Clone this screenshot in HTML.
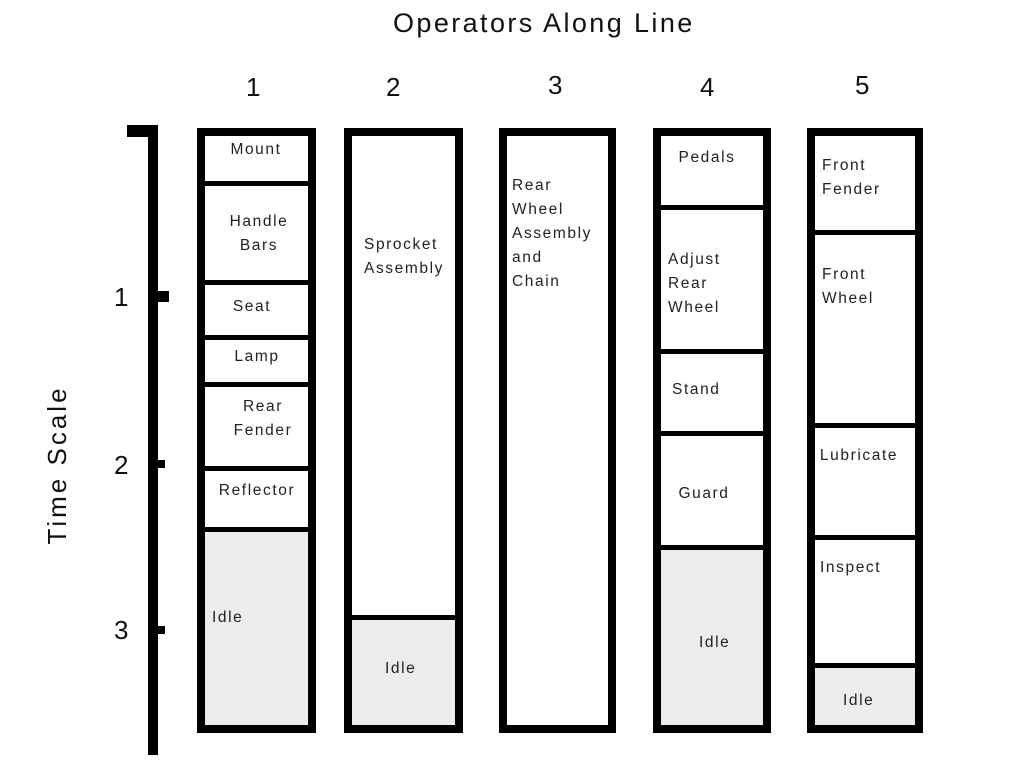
<!DOCTYPE html>
<html><head><style>
body{margin:0;width:1020px;height:763px;background:#fff;position:relative;overflow:hidden;font-family:"Liberation Sans",Arial,sans-serif;color:#222}
.a{position:absolute}
.b{position:absolute;background:#000}
.col{position:absolute;top:128px;height:605px;border:8px solid #000;box-sizing:border-box;background:#fff}
.t{position:absolute;font-size:15.5px;letter-spacing:1.6px;line-height:24px;white-space:nowrap}
.c{transform:translateX(-50%);text-align:center}
.big{position:absolute;font-size:26px;line-height:30px;color:#111}
.idle{position:absolute;background:#ececec}
</style></head><body>
<div class="big" style="left:393px;top:8px;font-size:27px;letter-spacing:2.4px">Operators Along Line</div>
<div class="big" style="left:246px;top:72px">1</div>
<div class="big" style="left:386px;top:72px">2</div>
<div class="big" style="left:548px;top:70px">3</div>
<div class="big" style="left:700px;top:72px">4</div>
<div class="big" style="left:855px;top:70px">5</div>
<div class="big" style="left:57px;top:465px;transform:translate(-50%,-50%) rotate(-90deg);white-space:nowrap;letter-spacing:3px">Time Scale</div>
<div class="big" style="left:114px;top:282px">1</div>
<div class="big" style="left:114px;top:450px">2</div>
<div class="big" style="left:114px;top:615px">3</div>
<div class="b" style="left:127px;top:125px;width:31px;height:12px"></div>
<div class="b" style="left:148px;top:125px;width:10px;height:630px"></div>
<div class="b" style="left:150px;top:291px;width:19px;height:11px"></div>
<div class="b" style="left:150px;top:460px;width:15px;height:8px"></div>
<div class="b" style="left:150px;top:626px;width:15px;height:8px"></div>
<!-- col1 -->
<div class="col" style="left:197px;width:119px"></div>
<div class="idle" style="left:205px;top:532px;width:103px;height:193px"></div>
<div class="b" style="left:205px;top:181px;width:103px;height:5px"></div>
<div class="b" style="left:205px;top:280px;width:103px;height:5px"></div>
<div class="b" style="left:205px;top:335px;width:103px;height:5px"></div>
<div class="b" style="left:205px;top:382px;width:103px;height:5px"></div>
<div class="b" style="left:205px;top:466px;width:103px;height:5px"></div>
<div class="b" style="left:205px;top:527px;width:103px;height:5px"></div>
<div class="t c" style="left:256px;top:138px">Mount</div>
<div class="t c" style="left:259px;top:210px">Handle<br>Bars</div>
<div class="t c" style="left:252px;top:295px">Seat</div>
<div class="t c" style="left:257px;top:345px">Lamp</div>
<div class="t c" style="left:263px;top:395px">Rear<br>Fender</div>
<div class="t c" style="left:257px;top:479px">Reflector</div>
<div class="t" style="left:212px;top:606px">Idle</div>
<!-- col2 -->
<div class="col" style="left:344px;width:119px"></div>
<div class="idle" style="left:352px;top:620px;width:103px;height:105px"></div>
<div class="b" style="left:352px;top:615px;width:103px;height:5px"></div>
<div class="t" style="left:364px;top:233px">Sprocket<br>Assembly</div>
<div class="t" style="left:385px;top:657px">Idle</div>
<!-- col3 -->
<div class="col" style="left:499px;width:117px"></div>
<div class="t" style="left:512px;top:174px">Rear<br>Wheel<br>Assembly<br>and<br>Chain</div>
<!-- col4 -->
<div class="col" style="left:653px;width:118px"></div>
<div class="idle" style="left:661px;top:550px;width:102px;height:175px"></div>
<div class="b" style="left:661px;top:205px;width:102px;height:5px"></div>
<div class="b" style="left:661px;top:349px;width:102px;height:5px"></div>
<div class="b" style="left:661px;top:431px;width:102px;height:5px"></div>
<div class="b" style="left:661px;top:545px;width:102px;height:5px"></div>
<div class="t c" style="left:707px;top:146px">Pedals</div>
<div class="t" style="left:668px;top:248px">Adjust<br>Rear<br>Wheel</div>
<div class="t" style="left:672px;top:378px">Stand</div>
<div class="t c" style="left:704px;top:482px">Guard</div>
<div class="t" style="left:699px;top:631px">Idle</div>
<!-- col5 -->
<div class="col" style="left:807px;width:116px"></div>
<div class="idle" style="left:815px;top:668px;width:100px;height:57px"></div>
<div class="b" style="left:815px;top:230px;width:100px;height:5px"></div>
<div class="b" style="left:815px;top:423px;width:100px;height:5px"></div>
<div class="b" style="left:815px;top:535px;width:100px;height:5px"></div>
<div class="b" style="left:815px;top:663px;width:100px;height:5px"></div>
<div class="t" style="left:822px;top:154px">Front<br>Fender</div>
<div class="t" style="left:822px;top:263px">Front<br>Wheel</div>
<div class="t c" style="left:859px;top:444px">Lubricate</div>
<div class="t" style="left:820px;top:556px">Inspect</div>
<div class="t" style="left:843px;top:689px">Idle</div>
</body></html>
